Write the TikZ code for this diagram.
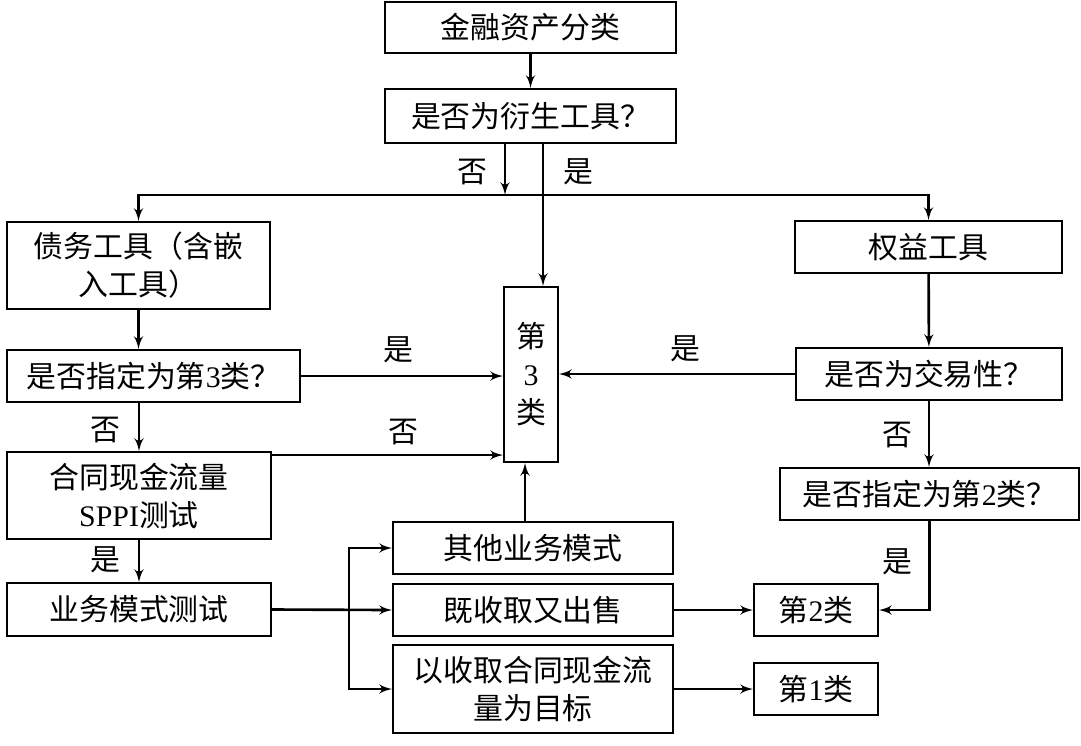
\documentclass[tikz,border=0pt]{standalone}
\usepackage{fontspec}
\setmainfont{Noto Sans CJK SC}
\newfontfamily\numfont{Liberation Serif}
\usepackage{tikz}
\usetikzlibrary{arrows, positioning, calc}

\newcommand{\nm}[1]{{\numfont #1}}

\begin{document}
\begin{tikzpicture}[x=0.02cm, y=-0.02cm, line width=1.1pt, font=\fontsize{17}{21.6}\selectfont]
    % Node Styles
    \tikzstyle{box} = [rectangle, draw, inner sep=0pt, align=center]
    \tikzstyle{line} = [draw, -latex', line width=1.5pt]
    \tikzstyle{lbl} = [inner sep=0pt]

    \useasboundingbox (0,0) rectangle (1081,745);

    % --- TOP: START ---
    \node [box, minimum width=5.82cm, minimum height=1.02cm] (start) at (530.5,27.5) {金融资产分类};
    \node [box, minimum width=5.82cm, minimum height=1.08cm] (deriv) at (530.5,116) {是否为衍生工具？};

    % --- LEFT COLUMN: DEBT ---
    \node [box, minimum width=5.26cm, minimum height=1.74cm] (debt) at (138.5,265.5) {债务工具（含嵌\\入工具）};
    \node [box, minimum width=5.86cm, minimum height=1.04cm] (desig3) at (153.5,376) {是否指定为第\nm{3}类？};
    \node [box, minimum width=5.28cm, minimum height=1.74cm] (sppi) at (139,495.5) {合同现金流量\\\nm{SPPI}测试};
    \node [box, minimum width=5.28cm, minimum height=1.06cm] (bmtest) at (139,609.5) {业务模式测试};

    % --- MIDDLE: CLASS 3 AND MODELS ---
    \node [box, minimum width=1.08cm, minimum height=3.5cm] (cat3) at (531,374.5) {第\\\nm{3}\\类};
    \node [box, minimum width=5.6cm, minimum height=1.04cm] (other) at (533,548) {其他业务模式};
    \node [box, minimum width=5.6cm, minimum height=1.04cm] (both) at (533,610) {既收取又出售};
    \node [box, minimum width=5.6cm, minimum height=1.76cm] (collect) at (533,689) {以收取合同现金流\\量为目标};
    \node [box, minimum width=2.48cm, minimum height=1.04cm] (cat2) at (816,610) {第\nm{2}类};
    \node [box, minimum width=2.48cm, minimum height=1.04cm] (cat1) at (816,689) {第\nm{1}类};

    % --- RIGHT COLUMN: EQUITY ---
    \node [box, minimum width=5.34cm, minimum height=1.04cm] (equity) at (928.5,247) {权益工具};
    \node [box, minimum width=5.32cm, minimum height=1.04cm] (trading) at (929,374) {是否为交易性？};
    \node [box, minimum width=5.98cm, minimum height=1.04cm] (desig2) at (929.5,494) {是否指定为第\nm{2}类？};

    % --- PATHS ---
    \coordinate (split) at (505,195);
    \coordinate (fork) at (349,611);
    \path [line] (start) -- (deriv);
    \path [line] (deriv.south -| split) -- (split);
    \path [line] (split) -| (debt.north);
    \path [line] (split) -| (equity.north);
    \path [line] ([xshift=0.24cm]cat3.north |- deriv.south) -- ([xshift=0.24cm]cat3.north);
    \node [lbl] (derivno) at (472,172) {否};
    \node [lbl] (derivyes) at (578,172) {是};

    \path [line] (debt.south) -- (debt.south |- desig3.north);
    \path [line] (desig3.east) -- (desig3.east -| cat3.west);
    \node [lbl] (d3yes) at (398,350) {是};
    \path [line] (desig3.south -| sppi) -- (sppi.north);
    \node [lbl] (d3no) at (105,430) {否};
    \path [line] ([yshift=-0.08cm]sppi.north east) -- ([yshift=-0.08cm]sppi.north east -| cat3.west);
    \node [lbl] (sppino) at (403,432) {否};
    \path [line] (sppi) -- (bmtest);
    \node [lbl] (sppiyes) at (105,560) {是};

    \path [line] (bmtest.east) -- (both.west);
    \path [line] (fork) |- (other.west);
    \path [line] (fork) |- (collect.west);
    \path [line] ([xshift=-0.12cm]cat3.south |- other.north) -- ([xshift=-0.12cm]cat3.south);
    \path [line] (both) -- (cat2);
    \path [line] (collect) -- (cat1);

    \path [line] (equity) -- (trading);
    \path [line] (trading.west) -- (trading.west -| cat3.east);
    \node [lbl] (tradeyes) at (685,349) {是};
    \path [line] (trading) -- (trading |- desig2.north);
    \node [lbl] (tradeno) at (897,435) {否};
    \path [line] (desig2.south) |- (cat2.east);
    \node [lbl] (d2yes) at (897,562) {是};

\end{tikzpicture}
\end{document}
